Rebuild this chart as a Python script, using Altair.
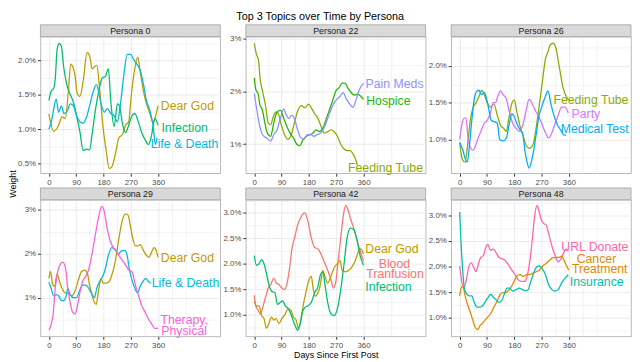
import altair as alt
import pandas as pd

TITLE = "Top 3 Topics over Time by Persona"
X_TITLE = "Days Since First Post"
Y_TITLE = "Weight"

TOPICS = ["Blood Tranfusion", "Cancer Treatment", "Dear God", "Feeding Tube", "Hospice",
          "Infection", "Insurance", "Life & Death", "Medical Test", "Pain Meds", "Party",
          "Therapy Physical", "URL Donate"]
COLORS = ["#F8766D", "#E18A00", "#BE9C00", "#8CAB00", "#24B700", "#00BE70", "#00C1AB",
          "#00BBDA", "#00ACFC", "#8B93FF", "#D575FE", "#F962DD", "#FF65AC"]

X_MAJOR = [0, 90, 180, 270, 360]
X_MINOR = [45, 135, 225, 315, 405, 450]
X_DOMAIN = [-28, 565]

# ---- Persona 0 (day, weight %) ----
P0_DEAR_GOD = [(0, 1.22), (16, 0.97), (32, 1.06), (43, 1.18), (54, 1.16), (64, 1.55), (72, 1.95), (81, 1.88),
               (86, 1.79), (93, 1.53), (102, 1.48), (113, 1.70), (126, 2.12), (134, 2.07), (143, 1.88),
               (150, 1.91), (158, 1.93), (167, 1.60), (177, 1.09), (188, 0.71), (199, 0.43), (207, 0.45),
               (220, 0.66), (231, 0.88), (242, 0.92), (253, 1.06), (263, 1.11), (272, 1.51), (283, 1.88),
               (293, 2.05), (301, 1.84), (312, 1.55), (322, 1.37), (333, 1.23), (344, 1.09), (351, 1.18),
               (360, 1.34)]
P0_INFECTION = [(0, 1.42), (7, 1.55), (16, 1.60), (21, 1.74), (27, 2.16), (34, 2.25), (41, 2.21), (48, 1.93),
                (59, 1.65), (70, 1.51), (81, 1.39), (91, 1.20), (102, 0.97), (113, 0.69), (124, 0.71),
                (134, 0.70), (143, 0.95), (154, 1.30), (164, 1.55), (175, 1.74), (186, 1.77), (196, 1.88),
                (204, 1.41), (215, 1.04), (226, 1.37), (233, 1.34), (242, 1.09), (253, 0.95), (263, 1.06),
                (274, 1.20), (283, 1.23), (296, 1.09), (306, 0.95), (317, 0.85), (328, 0.78), (338, 0.90),
                (349, 1.16), (360, 1.06)]
P0_LIFE_DEATH = [(0, 1.00), (9, 1.13), (16, 1.30), (24, 1.44), (32, 1.25), (41, 1.34), (50, 1.23), (61, 1.27),
                 (70, 1.37), (81, 1.34), (91, 1.20), (102, 1.11), (113, 1.09), (124, 1.18), (134, 1.34),
                 (145, 1.53), (156, 1.65), (164, 1.55), (172, 1.37), (183, 1.25), (193, 1.30), (204, 1.23),
                 (215, 1.20), (226, 1.11), (236, 1.37), (247, 1.79), (258, 2.09), (269, 2.09), (279, 2.02),
                 (290, 1.95), (301, 1.86), (312, 1.65), (322, 1.41), (333, 1.27), (344, 1.04), (351, 0.78),
                 (357, 0.88)]

# ---- Persona 22 ----
P22_FEEDING_TUBE = [(0, 2.91), (7, 2.71), (14, 2.59), (19, 2.25), (27, 2.01), (38, 1.70), (46, 1.40), (54, 1.37),
                    (61, 1.49), (70, 1.61), (78, 1.59), (89, 1.37), (100, 1.18), (111, 1.09), (122, 1.18),
                    (132, 1.40), (143, 1.63), (156, 1.73), (167, 1.69), (179, 1.76), (188, 1.69), (199, 1.58),
                    (210, 1.49), (220, 1.34), (231, 1.21), (242, 1.24), (253, 1.27), (263, 1.24), (274, 1.15),
                    (285, 1.00), (296, 0.91), (306, 0.88), (317, 0.88), (325, 0.82), (333, 0.73), (340, 0.60)]
P22_HOSPICE = [(0, 2.26), (5, 2.04), (13, 1.95), (18, 1.76), (27, 1.64), (35, 1.40), (43, 1.21), (54, 1.15),
               (64, 1.40), (75, 1.61), (86, 1.64), (97, 1.49), (107, 1.34), (118, 1.21), (129, 1.12),
               (140, 1.00), (150, 0.97), (161, 1.09), (172, 1.15), (183, 1.18), (193, 1.21), (204, 1.27),
               (215, 1.24), (226, 1.30), (236, 1.46), (247, 1.64), (258, 1.82), (269, 2.01), (279, 2.07),
               (290, 2.16), (299, 2.16), (308, 2.07), (319, 1.98), (330, 1.93), (340, 1.95), (351, 1.91),
               (360, 1.85)]
P22_PAIN_MEDS = [(0, 1.96), (7, 1.70), (16, 1.40), (27, 1.18), (40, 1.12), (54, 1.06), (64, 1.18), (75, 1.27),
                 (86, 1.49), (97, 1.67), (104, 1.58), (113, 1.49), (124, 1.55), (132, 1.49), (143, 1.27),
                 (154, 1.12), (164, 1.09), (175, 1.18), (186, 1.18), (197, 1.15), (207, 1.18), (218, 1.21),
                 (229, 1.30), (240, 1.46), (250, 1.61), (261, 1.76), (272, 1.85), (283, 1.91), (293, 1.98),
                 (304, 1.85), (315, 1.76), (325, 1.70), (336, 1.85), (347, 2.04), (360, 2.16)]

# ---- Persona 26 ----
P26_FEEDING_TUBE = [(0, 0.96), (5, 0.80), (11, 0.71), (18, 0.69), (27, 0.96), (35, 1.26), (43, 1.42), (54, 1.50),
                    (64, 1.59), (73, 1.67), (81, 1.61), (91, 1.50), (102, 1.44), (113, 1.48), (124, 1.33),
                    (134, 1.20), (145, 1.15), (154, 1.11), (161, 1.26), (170, 1.46), (180, 1.54), (188, 1.39),
                    (199, 1.18), (210, 1.04), (220, 0.91), (231, 0.88), (242, 0.93), (253, 1.18), (263, 1.48),
                    (274, 1.83), (283, 2.10), (290, 2.18), (299, 2.29), (308, 2.31), (317, 2.25), (325, 2.07),
                    (333, 1.88), (340, 1.72), (349, 1.61), (358, 1.54)]
P26_PARTY = [(0, 1.00), (7, 1.20), (16, 1.29), (21, 1.29), (27, 1.04), (35, 0.89), (43, 0.85), (50, 0.89),
             (59, 1.00), (70, 1.11), (81, 1.22), (91, 1.26), (102, 1.37), (111, 1.50), (118, 1.50), (126, 1.59),
             (134, 1.66), (143, 1.61), (154, 1.55), (164, 1.37), (175, 1.22), (186, 1.15), (196, 1.11),
             (207, 1.18), (218, 1.37), (229, 1.55), (240, 1.48), (250, 1.39), (261, 1.31), (272, 1.20),
             (283, 1.09), (293, 1.02), (304, 1.09), (315, 1.22), (325, 1.33), (336, 1.44), (347, 1.44),
             (358, 1.36)]
P26_MEDICAL_TEST = [(0, 0.96), (5, 0.91), (11, 0.85), (18, 0.74), (25, 0.69), (32, 0.91), (40, 1.26), (48, 1.55),
                    (57, 1.66), (64, 1.67), (72, 1.61), (81, 1.64), (89, 1.55), (97, 1.39), (104, 1.26),
                    (115, 1.24), (124, 1.22), (132, 1.00), (143, 0.98), (154, 1.02), (164, 1.22), (172, 1.35),
                    (180, 1.31), (188, 1.22), (199, 1.13), (207, 1.09), (215, 0.85), (222, 0.69), (229, 0.61),
                    (236, 0.69), (244, 0.85), (253, 1.09), (261, 1.31), (272, 1.46), (283, 1.59), (291, 1.66),
                    (301, 1.48), (312, 1.31), (322, 1.20), (333, 1.13), (344, 1.06), (351, 1.06)]

# ---- Persona 29 ----
P29_DEAR_GOD = [(0, 1.44), (5, 1.60), (13, 1.29), (19, 1.26), (27, 1.55), (35, 1.37), (43, 1.22), (54, 1.11),
                (64, 1.11), (75, 1.04), (86, 1.15), (97, 1.40), (107, 1.59), (118, 1.63), (127, 1.55),
                (134, 1.29), (143, 1.04), (150, 0.89), (156, 0.85), (164, 1.18), (172, 1.44), (179, 1.33),
                (188, 1.33), (199, 1.37), (207, 1.51), (215, 1.70), (222, 1.96), (231, 2.36), (242, 2.76),
                (253, 2.91), (261, 2.88), (269, 2.62), (276, 2.36), (285, 2.18), (293, 2.18), (301, 2.21),
                (312, 2.07), (322, 1.96), (330, 1.92), (338, 2.03), (347, 2.14), (354, 2.07), (360, 1.92)]
P29_LIFE_DEATH = [(0, 1.35), (7, 1.22), (16, 1.04), (24, 1.07), (32, 1.04), (40, 0.94), (48, 0.93), (57, 1.04),
                  (62, 1.22), (70, 1.07), (81, 1.00), (91, 1.00), (102, 1.18), (113, 1.29), (124, 1.28),
                  (134, 1.18), (143, 1.07), (150, 1.00), (158, 1.22), (167, 1.37), (177, 1.48), (186, 1.66),
                  (196, 1.96), (207, 2.14), (218, 2.10), (229, 1.99), (240, 2.07), (250, 2.07), (258, 1.96),
                  (265, 1.66), (274, 1.40), (283, 1.22), (292, 1.11), (301, 1.26), (310, 1.37), (319, 1.44),
                  (328, 1.37), (336, 1.33)]
P29_THERAPY = [(0, 0.26), (7, 0.38), (14, 0.63), (21, 1.22), (29, 1.59), (38, 1.77), (45, 1.81), (54, 1.70),
               (62, 1.22), (70, 0.89), (78, 0.67), (86, 0.63), (93, 0.78), (102, 1.11), (111, 1.37), (121, 1.48),
               (132, 1.66), (143, 2.03), (154, 2.47), (164, 2.84), (174, 3.08), (183, 2.95), (191, 2.62),
               (201, 2.32), (209, 2.18), (220, 2.07), (231, 1.96), (242, 1.85), (253, 1.74), (263, 1.63),
               (274, 1.59), (285, 1.29), (296, 1.04), (306, 0.82), (317, 0.67), (328, 0.52), (338, 0.41),
               (349, 0.30), (360, 0.30)]

# ---- Persona 42 ----
P42_BLOOD = [(0, 1.38), (5, 1.17), (13, 1.08), (21, 1.01), (29, 1.17), (38, 1.36), (46, 1.52), (55, 1.60),
             (64, 1.71), (73, 1.62), (81, 1.59), (91, 1.52), (100, 1.49), (107, 1.59), (116, 1.90), (124, 2.29),
             (134, 2.54), (143, 2.76), (154, 2.92), (167, 3.00), (177, 2.83), (188, 2.51), (199, 2.32),
             (210, 2.29), (220, 2.19), (231, 2.03), (242, 1.87), (253, 1.68), (261, 1.52), (269, 1.65),
             (276, 2.03), (285, 2.51), (293, 2.92), (301, 3.15), (308, 3.08), (317, 2.89), (328, 2.70),
             (338, 2.48), (349, 2.25), (360, 2.06)]
P42_DEAR_GOD = [(0, 1.27), (7, 1.17), (16, 1.17), (24, 0.98), (32, 0.92), (40, 0.73), (48, 0.82), (57, 0.95),
                (64, 0.89), (72, 0.92), (81, 0.82), (91, 0.92), (102, 1.01), (111, 1.11), (121, 1.08),
                (129, 0.95), (138, 0.89), (145, 0.73), (154, 0.89), (161, 1.17), (170, 1.43), (180, 1.68),
                (188, 1.75), (194, 1.52), (201, 1.36), (210, 1.43), (218, 1.59), (226, 1.87), (233, 1.75),
                (242, 1.62), (250, 1.71), (258, 1.84), (265, 1.94), (274, 2.00), (283, 2.06), (290, 1.87),
                (301, 1.84), (312, 1.87), (322, 1.94), (333, 2.06), (344, 2.25), (351, 2.29), (360, 2.19)]
P42_INFECTION = [(0, 2.16), (7, 1.97), (16, 2.00), (24, 2.08), (32, 2.00), (40, 1.81), (48, 1.59), (57, 1.46),
                 (68, 1.43), (76, 1.20), (86, 1.24), (94, 1.27), (102, 1.17), (113, 1.11), (124, 0.95),
                 (134, 0.79), (143, 0.69), (150, 0.79), (158, 1.04), (167, 1.14), (177, 1.17), (188, 1.24),
                 (199, 1.43), (210, 1.55), (218, 1.78), (226, 1.84), (233, 1.59), (242, 1.24), (253, 1.01),
                 (263, 0.98), (274, 1.11), (285, 1.49), (296, 2.00), (306, 2.51), (317, 2.70), (328, 2.67),
                 (338, 2.48), (349, 2.16), (360, 1.97)]

# ---- Persona 48 ----
P48_URL = [(0, 2.01), (5, 1.77), (13, 1.58), (21, 1.71), (29, 1.97), (38, 2.07), (46, 1.99), (54, 1.90),
           (62, 2.06), (70, 2.18), (78, 2.21), (86, 2.37), (93, 2.43), (102, 2.31), (111, 2.34), (119, 2.28),
           (129, 2.18), (140, 2.15), (150, 2.12), (161, 2.03), (172, 1.93), (183, 1.84), (193, 1.74),
           (204, 1.71), (215, 1.71), (222, 1.81), (231, 2.09), (240, 2.56), (247, 2.97), (255, 3.19),
           (261, 3.09), (269, 2.91), (276, 2.84), (285, 2.81), (293, 2.65), (304, 2.40), (315, 2.21),
           (325, 2.09), (334, 2.15), (344, 2.28), (351, 2.34), (358, 2.31)]
P48_CANCER = [(0, 1.43), (5, 1.58), (11, 1.62), (18, 1.43), (27, 1.24), (35, 1.11), (43, 0.96), (50, 0.83),
              (59, 0.77), (68, 0.86), (75, 0.89), (84, 0.96), (93, 1.02), (102, 1.08), (113, 1.21), (124, 1.33),
              (134, 1.46), (143, 1.49), (150, 1.49), (158, 1.52), (167, 1.58), (177, 1.68), (188, 1.81),
              (199, 1.84), (210, 1.81), (220, 1.84), (231, 1.84), (242, 1.87), (253, 1.90), (263, 1.93),
              (274, 2.01), (285, 2.06), (296, 2.12), (306, 2.17), (317, 2.18), (328, 2.18), (336, 2.20),
              (344, 2.12), (351, 2.03), (360, 1.93)]
P48_INSURANCE = [(0, 3.06), (5, 2.40), (11, 1.84), (16, 1.55), (24, 1.46), (32, 1.43), (40, 1.43), (48, 1.30),
                 (57, 1.21), (68, 1.21), (76, 1.24), (86, 1.33), (94, 1.40), (102, 1.46), (111, 1.40),
                 (119, 1.36), (129, 1.30), (138, 1.33), (147, 1.46), (156, 1.58), (164, 1.58), (175, 1.52),
                 (186, 1.55), (197, 1.58), (207, 1.55), (218, 1.53), (226, 1.55), (233, 1.68), (242, 1.84),
                 (250, 1.96), (261, 2.01), (272, 1.96), (283, 1.84), (293, 1.65), (304, 1.55), (315, 1.52),
                 (325, 1.55), (336, 1.68), (347, 1.77), (358, 1.84)]

W, H = 183, 139
STRIP_H = 12
GRID = "#EBEBEB"
FONT = "Liberation Sans"

color_scale = alt.Scale(domain=TOPICS, range=COLORS)


def panel(title, series, ydom, ymaj, ymin, fmt, labels, xtitle=None, ytitle=False):
    rows = []
    for topic, pts in series:
        for d, v in pts:
            rows.append({"topic": topic, "day": d, "w": v})
    df = pd.DataFrame(rows)
    xs = alt.Scale(domain=X_DOMAIN, nice=False, zero=False)
    ys = alt.Scale(domain=ydom, nice=False, zero=False)
    lab_expr = "format(datum.value, '%s') + '%%'" % fmt

    grid = alt.Chart(df).mark_point(opacity=0).encode(
        x=alt.X("day:Q", scale=xs, axis=alt.Axis(orient="top", values=X_MINOR, labels=False, ticks=False,
                                                 domain=False, grid=True, gridColor=GRID, gridWidth=0.6,
                                                 title=None)),
        y=alt.Y("w:Q", scale=ys, axis=alt.Axis(orient="right", values=ymin, labels=False, ticks=False,
                                               domain=False, grid=True, gridColor=GRID, gridWidth=0.6,
                                               title=None)),
    )
    lines = alt.Chart(df).mark_line(strokeWidth=1.3, interpolate="monotone").encode(
        x=alt.X("day:Q", scale=xs, axis=alt.Axis(orient="bottom", values=X_MAJOR, grid=True, gridColor=GRID,
                                                 gridWidth=1, title=xtitle)),
        y=alt.Y("w:Q", scale=ys, axis=alt.Axis(orient="left", values=ymaj, grid=True, gridColor=GRID,
                                               gridWidth=1, labelExpr=lab_expr, title=None)),
        color=alt.Color("topic:N", scale=color_scale, legend=None),
        order="day:Q",
    )
    lab_rows = [{"topic": t, "text": s, "day": d, "w": v, "al": a} for (t, s, d, v, a) in labels]
    ldf = pd.DataFrame(lab_rows)
    layers = [grid, lines]
    for al in ["left", "center"]:
        sub = ldf[ldf["al"] == al]
        if len(sub) == 0:
            continue
        layers.append(alt.Chart(sub).mark_text(align=al, baseline="middle", fontSize=12.5, font=FONT).encode(
            x=alt.X("day:Q", scale=xs, axis=None),
            y=alt.Y("w:Q", scale=ys, axis=None),
            text="text:N",
            color=alt.Color("topic:N", scale=color_scale, legend=None),
        ))
    sdf = pd.DataFrame({"t": [title]})
    layers.append(alt.Chart(sdf).mark_rect(fill="#D9D9D9", stroke="#9E9E9E", strokeWidth=0.8).encode(
        x=alt.value(0), x2=alt.value(W), y=alt.value(-STRIP_H), y2=alt.value(0)))
    layers.append(alt.Chart(sdf).mark_text(fontSize=9, color="#1A1A1A", baseline="middle", font=FONT).encode(
        x=alt.value(W / 2), y=alt.value(-STRIP_H / 2 + 0.5), text="t:N"))
    if ytitle:
        layers.append(alt.Chart(pd.DataFrame({"t": [Y_TITLE]})).mark_text(
            fontSize=9, color="#000000", angle=270, baseline="middle", font=FONT).encode(
            x=alt.value(-28), y=alt.value(-16), text="t:N"))
    return alt.layer(*layers).resolve_axis(x="independent", y="independent").properties(width=W, height=H)


p0 = panel("Persona 0",
           [("Dear God", P0_DEAR_GOD), ("Infection", P0_INFECTION), ("Life & Death", P0_LIFE_DEATH)],
           [0.36, 2.35], [0.5, 1.0, 1.5, 2.0], [0.75, 1.25, 1.75, 2.25], ".1f",
           [("Dear God", "Dear God", 369, 1.34, "left"), ("Infection", "Infection", 371, 1.02, "left"),
            ("Life & Death", "Life & Death", 336, 0.78, "left")])
p22 = panel("Persona 22",
            [("Feeding Tube", P22_FEEDING_TUBE), ("Hospice", P22_HOSPICE), ("Pain Meds", P22_PAIN_MEDS)],
            [0.45, 3.04], [1, 2, 3], [0.5, 1.5, 2.5], ".0f",
            [("Pain Meds", "Pain Meds", 367, 2.15, "left"), ("Hospice", "Hospice", 369, 1.82, "left"),
             ("Feeding Tube", "Feeding Tube", 309, 0.54, "left")])
p26 = panel("Persona 26",
            [("Feeding Tube", P26_FEEDING_TUBE), ("Party", P26_PARTY), ("Medical Test", P26_MEDICAL_TEST)],
            [0.54, 2.40], [1.0, 1.5, 2.0], [0.75, 1.25, 1.75, 2.25], ".1f",
            [("Feeding Tube", "Feeding Tube", 309, 1.54, "left"), ("Party", "Party", 369, 1.35, "left"),
             ("Medical Test", "Medical Test", 333, 1.14, "left")])
p29 = panel("Persona 29",
            [("Dear God", P29_DEAR_GOD), ("Life & Death", P29_LIFE_DEATH), ("Therapy Physical", P29_THERAPY)],
            [0.12, 3.23], [1, 2, 3], [0.5, 1.5, 2.5], ".0f",
            [("Dear God", "Dear God", 369, 1.90, "left"), ("Life & Death", "Life & Death", 339, 1.33, "left"),
             ("Therapy Physical", "Therapy,", 446, 0.48, "center"),
             ("Therapy Physical", "Physical", 446, 0.25, "center")],
            ytitle=True)
p42 = panel("Persona 42",
            [("Blood Tranfusion", P42_BLOOD), ("Dear God", P42_DEAR_GOD), ("Infection", P42_INFECTION)],
            [0.57, 3.26], [1.0, 1.5, 2.0, 2.5, 3.0], [0.75, 1.25, 1.75, 2.25, 2.75, 3.25], ".1f",
            [("Dear God", "Dear God", 366, 2.29, "left"),
             ("Blood Tranfusion", "Blood", 462, 1.99, "center"),
             ("Blood Tranfusion", "Tranfusion", 464, 1.80, "center"),
             ("Infection", "Infection", 366, 1.55, "left")],
            xtitle=X_TITLE)
p48 = panel("Persona 48",
            [("URL Donate", P48_URL), ("Cancer Treatment", P48_CANCER), ("Insurance", P48_INSURANCE)],
            [0.64, 3.30], [1.0, 1.5, 2.0, 2.5, 3.0], [0.75, 1.25, 1.75, 2.25, 2.75, 3.25], ".1f",
            [("URL Donate", "URL Donate", 335, 2.38, "left"),
             ("Cancer Treatment", "Cancer", 451, 2.14, "center"),
             ("Cancer Treatment", "Treatment", 462, 1.95, "center"),
             ("Insurance", "Insurance", 363, 1.70, "left")])

chart = alt.concat(p0, p22, p26, p29, p42, p48, columns=3,
                   spacing={"row": 27, "column": 26}, bounds="flush").properties(
    title=alt.TitleParams(TITLE, fontSize=11, fontWeight="normal", anchor="middle", color="#000000",
                          font=FONT, offset=2),
    padding={"left": 0, "top": 0, "right": 0, "bottom": 0},
).configure_axis(
    labelFontSize=8, labelColor="#4D4D4D", labelFont=FONT, tickColor="#333333", tickSize=3,
    domain=False, titleFontSize=9, titleFontWeight="normal", titleFont=FONT, titleColor="#000000",
    titlePadding=2, labelPadding=2,
).configure_view(stroke="#A6A6A6", strokeWidth=0.8)

chart.save("out.html", embed_options={"renderer": "svg", "actions": False})
